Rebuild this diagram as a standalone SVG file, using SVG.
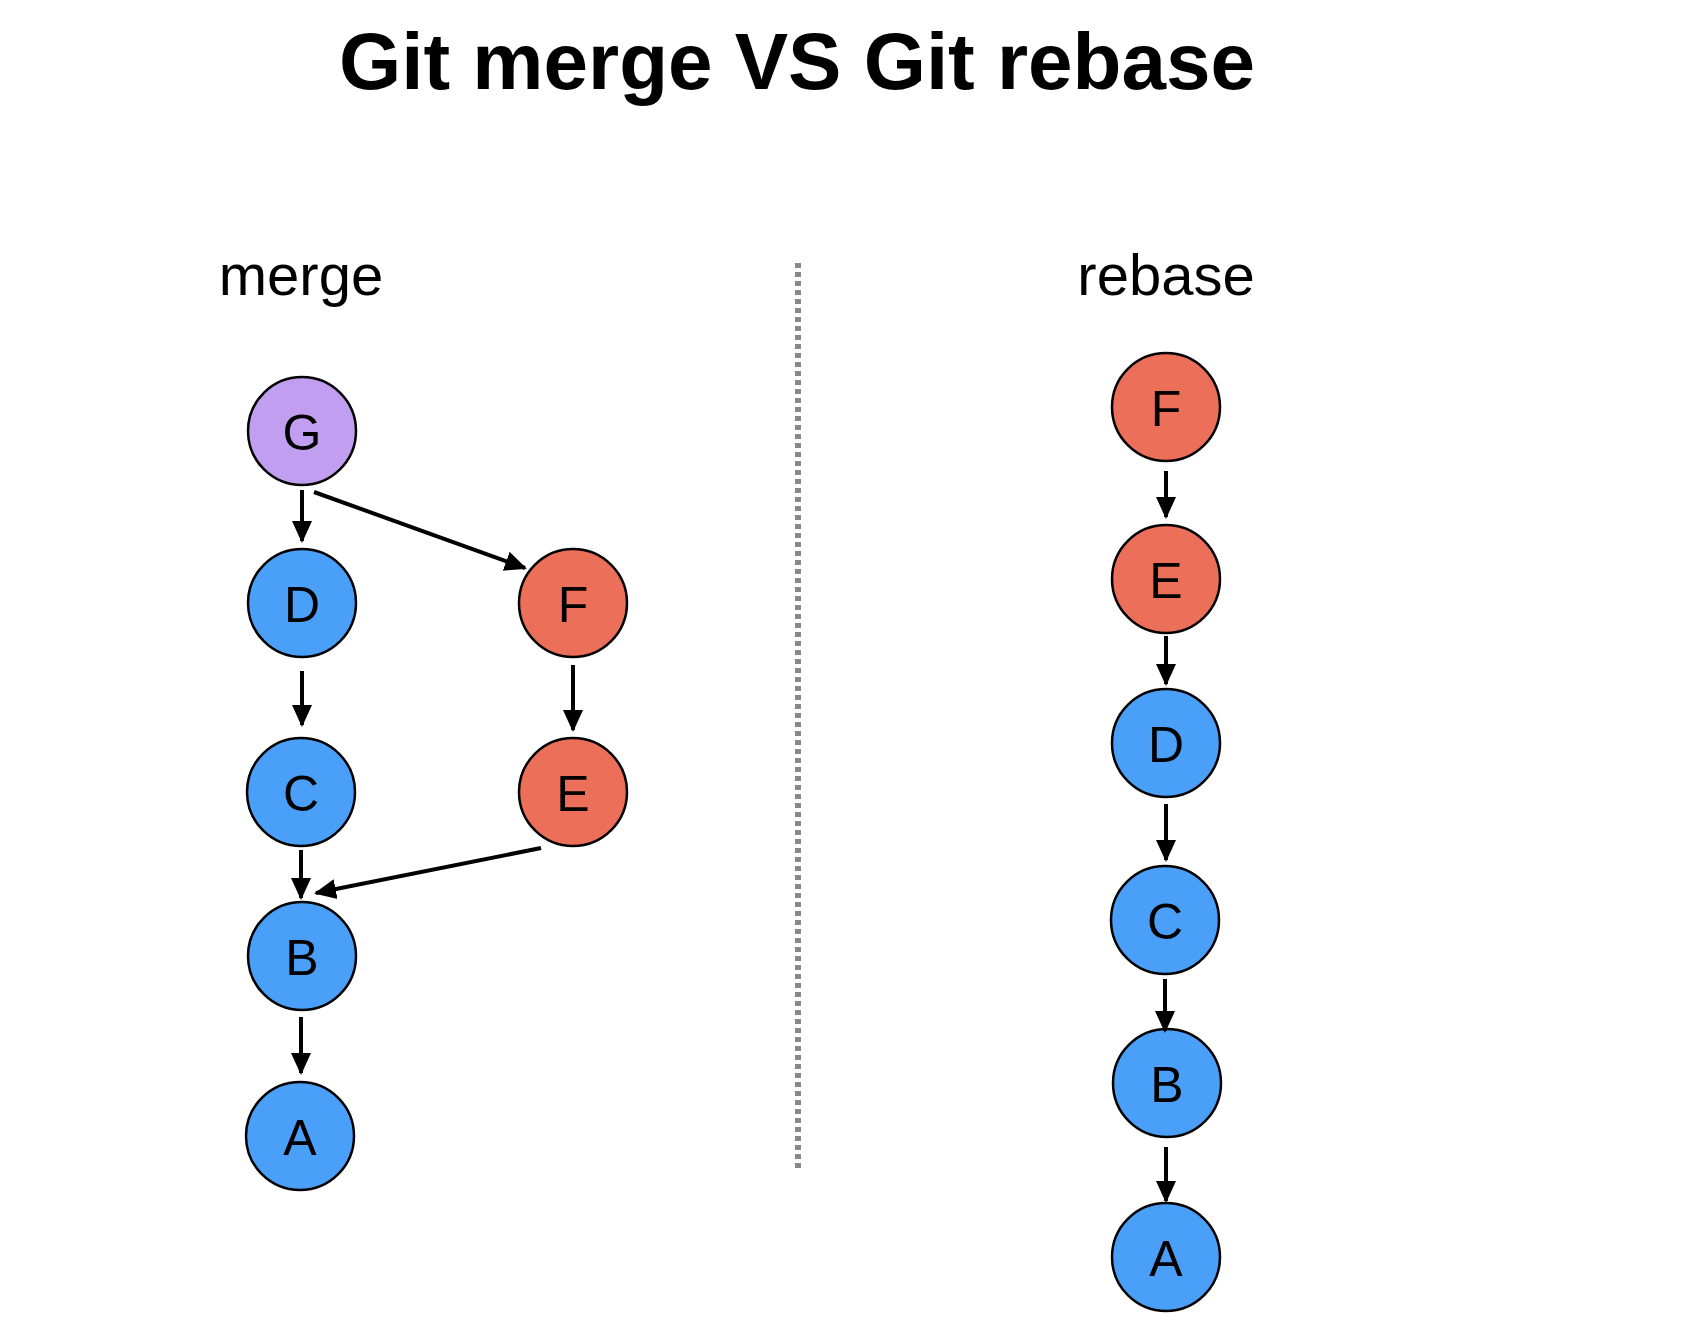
<svg xmlns="http://www.w3.org/2000/svg" width="1688" height="1332" viewBox="0 0 1688 1332">
<style>
.n{stroke:#000;stroke-width:2.5}
.b{fill:#4A9FF8}.r{fill:#EC6F59}.p{fill:#C29EF0}
.t{font-family:"Liberation Sans",Arial,sans-serif;font-size:50px;text-anchor:middle;dominant-baseline:central;fill:#000}
.c line{stroke:#000;stroke-width:4;marker-end:url(#ah)}
</style>
<defs><marker id="ah" markerWidth="6" markerHeight="6" refX="5" refY="3" orient="auto"><path d="M0,0.5 L5.5,3 L0,5.5z" fill="#000"/></marker></defs>
<rect width="1688" height="1332" fill="#fff"/>
<text x="797" y="89" font-family="Liberation Sans,Arial,sans-serif" font-weight="bold" font-size="80" text-anchor="middle">Git merge VS Git rebase</text>
<text x="301" y="295" font-family="Liberation Sans,Arial,sans-serif" font-size="58" text-anchor="middle">merge</text>
<text x="1166" y="295" font-family="Liberation Sans,Arial,sans-serif" font-size="58" text-anchor="middle">rebase</text>
<line x1="798" y1="263" x2="798" y2="1172" stroke="#888" stroke-width="6" stroke-dasharray="5,4"/>
<g id="mG"><circle class="n p" cx="302" cy="431" r="54"/><text class="t" x="302" y="433">G</text></g>
<g id="mD"><circle class="n b" cx="302" cy="603" r="54"/><text class="t" x="302" y="605">D</text></g>
<g id="mF"><circle class="n r" cx="573" cy="603" r="54"/><text class="t" x="573" y="605">F</text></g>
<g id="mC"><circle class="n b" cx="301" cy="792" r="54"/><text class="t" x="301" y="794">C</text></g>
<g id="mE"><circle class="n r" cx="573" cy="792" r="54"/><text class="t" x="573" y="794">E</text></g>
<g id="mB"><circle class="n b" cx="302" cy="956" r="54"/><text class="t" x="302" y="958">B</text></g>
<g id="mA"><circle class="n b" cx="300" cy="1136" r="54"/><text class="t" x="300" y="1138">A</text></g>
<g id="rF"><circle class="n r" cx="1166" cy="407" r="54"/><text class="t" x="1166" y="409">F</text></g>
<g id="rE"><circle class="n r" cx="1166" cy="579" r="54"/><text class="t" x="1166" y="581">E</text></g>
<g id="rD"><circle class="n b" cx="1166" cy="743" r="54"/><text class="t" x="1166" y="745">D</text></g>
<g id="rC"><circle class="n b" cx="1165" cy="920" r="54"/><text class="t" x="1165" y="922">C</text></g>
<g id="rB"><circle class="n b" cx="1167" cy="1083" r="54"/><text class="t" x="1167" y="1085">B</text></g>
<g id="rA"><circle class="n b" cx="1166" cy="1257" r="54"/><text class="t" x="1166" y="1259">A</text></g>
<g class="c">
<line x1="302" y1="490" x2="302" y2="541"/>
<line x1="314" y1="492" x2="525" y2="568"/>
<line x1="302" y1="671" x2="302" y2="725"/>
<line x1="573" y1="665" x2="573" y2="730"/>
<line x1="301" y1="850" x2="301" y2="898"/>
<line x1="541" y1="848" x2="316" y2="893"/>
<line x1="301" y1="1017" x2="301" y2="1073"/>
<line x1="1166" y1="471" x2="1166" y2="517"/>
<line x1="1166" y1="636" x2="1166" y2="684"/>
<line x1="1166" y1="804" x2="1166" y2="860"/>
<line x1="1165" y1="979" x2="1165" y2="1031"/>
<line x1="1166" y1="1147" x2="1166" y2="1201"/>
</g>
</svg>
